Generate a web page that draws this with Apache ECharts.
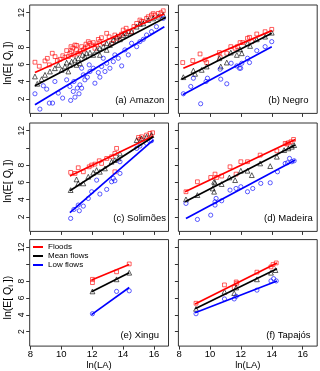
<!DOCTYPE html>
<html><head><meta charset="utf-8">
<script src="https://cdn.jsdelivr.net/npm/echarts@6/dist/echarts.min.js"></script>
<style>html,body{margin:0;padding:0;background:#fff}#c{width:320px;height:371px}</style>
</head><body><div id="c"></div>
<script>
// ---- tick labels / categories ----
const xTicks = [8, 10, 12, 14, 16];
const yTicks = [2, 4, 6, 8, 10, 12];
const yTickLabels = [2, 4, 6, 8, 12];
const panelTitles = ['(a) Amazon', '(b) Negro', '(c) Solimões', '(d) Madeira', '(e) Xingu', '(f) Tapajós'];
const seriesNames = ['Floods', 'Mean flows', 'Low flows'];
const xAxisTitle = 'ln(LA)';
const yAxisTitle = 'ln(E[ Q{s|i} ])';

// ---- (a) Amazon ----
const amazonFloods = [[8.30,6.25],[8.58,5.78],[8.95,6.40],[9.10,6.70],[9.23,5.94],[9.42,7.29],[9.60,6.90],[9.75,6.44],[9.92,6.59],[10.10,7.00],[10.24,6.83],[10.35,7.60],[10.46,6.90],[10.56,7.29],[10.63,8.06],[10.67,7.48],[10.75,7.90],[10.82,7.10],[10.89,8.25],[10.99,7.68],[11.00,8.20],[11.10,7.29],[11.21,7.48],[11.32,8.06],[11.43,7.68],[11.53,7.87],[11.60,8.35],[11.69,8.06],[11.75,8.64],[11.86,8.45],[11.97,8.25],[12.07,8.53],[12.18,7.87],[12.29,8.25],[12.40,8.90],[12.50,8.64],[12.60,9.10],[12.72,8.45],[12.94,9.61],[13.10,9.20],[13.26,8.45],[13.37,8.83],[13.47,9.41],[13.63,9.03],[13.75,9.22],[13.90,9.50],[14.01,9.99],[14.12,9.61],[14.20,10.20],[14.34,9.80],[14.55,9.80],[14.70,10.40],[14.88,10.76],[15.09,11.15],[15.20,11.00],[15.31,10.96],[15.52,11.34],[15.63,11.54],[15.84,11.73],[15.95,11.90],[16.06,11.73],[16.28,11.92],[16.45,12.00],[16.60,12.23]];
const amazonMean = [[8.30,4.59],[8.45,3.74],[8.73,4.28],[8.95,4.78],[9.27,5.17],[9.59,5.55],[9.81,5.94],[10.03,5.36],[10.24,5.75],[10.35,6.21],[10.46,5.17],[10.56,5.94],[10.67,6.32],[10.89,6.52],[10.99,5.94],[11.10,6.71],[11.21,6.13],[11.38,7.10],[11.53,6.90],[11.64,7.29],[11.86,7.37],[12.07,7.10],[12.29,7.68],[12.50,7.87],[12.50,7.10],[12.72,8.06],[12.94,8.45],[12.94,7.68],[13.15,8.25],[13.37,8.83],[13.58,9.22],[13.80,8.91],[14.01,9.41],[14.23,9.61],[14.55,9.80],[14.88,10.38],[15.09,10.69],[15.31,10.76],[15.63,11.15],[15.95,11.34],[16.28,11.54],[16.60,11.73]];
const amazonLow = [[8.30,2.58],[8.62,0.80],[8.84,3.51],[9.06,3.12],[9.23,1.50],[9.44,1.50],[9.59,4.01],[9.81,2.66],[10.09,2.08],[10.35,4.20],[10.56,3.43],[10.61,1.81],[10.78,2.85],[10.82,4.01],[10.89,2.19],[11.04,3.24],[11.15,2.58],[11.21,3.62],[11.32,3.24],[11.32,5.55],[11.43,4.78],[11.53,4.20],[11.69,4.51],[11.81,5.94],[11.86,5.17],[12.07,5.55],[12.18,3.81],[12.40,5.05],[12.50,4.51],[12.61,5.75],[12.72,6.71],[12.83,5.17],[12.94,6.13],[13.15,5.55],[13.37,6.32],[13.47,7.10],[13.69,6.71],[13.91,5.82],[14.12,7.68],[14.34,7.10],[14.55,8.45],[14.88,8.06],[15.09,8.64],[15.31,8.91],[15.52,9.41],[15.84,9.80],[16.16,10.38],[16.60,11.34]];
const amazonFloodsFit = [[8.30,5.05],[16.67,11.85]];
const amazonMeanFit = [[8.30,3.51],[16.76,11.46]];
const amazonLowFit = [[8.30,1.30],[16.67,10.38]];

// ---- (b) Negro ----
const negroFloods = [[8.24,6.21],[8.89,6.44],[9.36,7.21],[9.68,6.52],[9.79,6.21],[10.61,7.37],[10.66,6.83],[11.09,7.29],[11.35,8.06],[11.63,7.87],[11.78,8.06],[11.95,8.53],[12.12,8.53],[12.43,9.03],[12.56,9.14],[12.71,8.64],[13.03,9.53],[13.57,9.80],[14.00,10.07]];
const negroMean = [[8.28,4.51],[8.93,5.28],[9.04,4.90],[9.47,5.36],[9.79,5.75],[10.61,6.71],[10.70,5.75],[11.09,6.21],[11.35,7.37],[11.74,7.10],[11.95,7.75],[12.06,7.29],[12.43,8.45],[12.60,8.14],[13.03,8.91],[13.57,9.22],[14.00,9.68]];
const negroLow = [[8.28,2.58],[8.76,3.43],[8.93,4.39],[9.40,1.42],[9.75,4.01],[9.84,4.39],[10.66,5.44],[10.70,4.28],[11.09,3.74],[11.37,6.13],[11.74,5.82],[11.91,5.55],[11.99,5.55],[12.06,6.13],[12.43,6.71],[12.56,6.21],[13.03,7.60],[13.57,8.06],[14.00,8.64]];
const negroFloodsFit = [[8.28,5.55],[14.00,9.92]];
const negroMeanFit = [[8.17,4.28],[14.00,9.61]];
const negroLowFit = [[8.24,2.46],[14.00,8.06]];

// ---- (c) Solimões ----
const solimoesFloods = [[10.61,7.16],[10.89,7.04],[11.10,7.70],[11.43,7.23],[11.81,7.81],[11.97,8.01],[12.18,8.12],[12.46,8.51],[12.61,8.20],[12.94,8.78],[13.26,8.98],[13.47,9.36],[13.47,7.23],[13.58,9.95],[15.00,11.22],[15.09,11.00],[15.20,11.30],[15.52,11.50],[15.74,11.69],[15.91,11.77]];
const solimoesMean = [[10.61,5.10],[10.99,6.34],[11.10,5.88],[11.43,5.88],[11.75,6.65],[12.07,7.12],[12.29,7.43],[12.50,7.23],[12.83,7.62],[13.26,8.40],[13.47,8.59],[13.69,8.78],[13.80,9.36],[14.88,10.91],[15.20,11.11],[15.52,11.30],[15.84,11.50]];
const solimoesLow = [[10.61,1.81],[10.82,2.85],[11.10,3.36],[11.17,2.70],[11.43,3.24],[11.75,4.13],[11.97,4.91],[12.29,6.26],[12.50,4.64],[12.94,5.18],[13.26,6.07],[13.37,6.46],[13.47,6.19],[13.80,7.04],[13.80,8.40],[14.88,9.95],[15.09,10.22],[15.52,10.53],[15.84,10.84]];
const solimoesFloodsFit = [[10.56,6.73],[15.95,11.38]];
const solimoesMeanFit = [[10.56,5.02],[15.95,11.30]];
const solimoesLowFit = [[10.56,2.47],[15.95,10.91]];

// ---- (d) Madeira ----
const madeiraFloods = [[8.45,4.91],[9.19,6.07],[10.05,6.57],[10.33,6.96],[10.44,6.57],[10.76,6.73],[11.30,7.81],[11.69,6.96],[12.00,8.40],[12.43,8.40],[13.25,9.17],[14.33,9.67],[14.87,10.53],[14.98,10.45],[15.08,10.60],[15.24,10.72],[15.41,10.99]];
const madeiraMean = [[8.45,4.02],[9.19,4.52],[10.18,5.29],[10.27,6.07],[10.27,4.91],[10.33,5.95],[10.76,5.80],[11.26,6.57],[11.63,6.26],[12.00,7.35],[12.43,7.35],[12.71,6.84],[13.25,8.20],[13.90,7.89],[14.33,8.98],[14.80,9.75],[15.08,9.95],[15.30,10.14],[15.45,10.33]];
const madeiraLow = [[8.45,3.55],[9.19,1.69],[10.05,2.19],[10.33,3.74],[10.33,3.36],[10.40,4.13],[10.76,3.86],[11.30,5.10],[11.69,5.29],[12.00,5.49],[12.43,4.91],[12.77,5.29],[13.29,5.88],[13.90,5.95],[14.37,7.23],[14.87,8.20],[15.02,8.28],[15.15,8.78],[15.30,8.40],[15.45,8.51]];
const madeiraFloodsFit = [[8.39,4.91],[15.52,10.99]];
const madeiraMeanFit = [[8.39,3.74],[15.52,10.33]];
const madeiraLowFit = [[8.45,1.81],[15.52,8.59]];

// ---- (e) Xingu ----
const xinguFloods = [[12.02,8.20],[12.02,7.81],[13.58,9.09],[14.40,10.02]];
const xinguMean = [[12.02,6.77],[13.58,8.20],[14.40,8.98]];
const xinguLow = [[12.02,4.13],[13.58,6.77],[14.40,6.84]];
const xinguFloodsFit = [[11.96,8.12],[14.40,9.95]];
const xinguMeanFit = [[11.96,6.73],[14.40,8.98]];
const xinguLowFit = [[11.96,4.02],[14.40,7.23]];

// ---- (f) Tapajós ----
const tapajosFloods = [[9.10,5.37],[10.94,7.54],[11.57,7.23],[11.70,7.89],[11.74,7.74],[13.04,9.05],[13.95,9.67],[14.08,9.95],[14.29,10.14]];
const tapajosMean = [[9.10,4.71],[10.94,6.73],[11.57,6.57],[11.70,7.23],[13.04,8.20],[13.95,8.98],[14.24,9.29]];
const tapajosLow = [[9.10,4.13],[10.94,5.88],[11.57,5.88],[11.70,6.19],[13.04,6.92],[13.95,8.01],[14.12,8.28],[14.29,8.01]];
const tapajosFloodsFit = [[9.04,5.29],[14.34,10.14]];
const tapajosMeanFit = [[9.04,4.71],[14.34,9.44]];
const tapajosLowFit = [[9.04,4.25],[14.34,8.01]];

const panels = [
  {pts:[amazonFloods, amazonMean, amazonLow], fits:[amazonFloodsFit, amazonMeanFit, amazonLowFit]},
  {pts:[negroFloods, negroMean, negroLow], fits:[negroFloodsFit, negroMeanFit, negroLowFit]},
  {pts:[solimoesFloods, solimoesMean, solimoesLow], fits:[solimoesFloodsFit, solimoesMeanFit, solimoesLowFit]},
  {pts:[madeiraFloods, madeiraMean, madeiraLow], fits:[madeiraFloodsFit, madeiraMeanFit, madeiraLowFit]},
  {pts:[xinguFloods, xinguMean, xinguLow], fits:[xinguFloodsFit, xinguMeanFit, xinguLowFit]},
  {pts:[tapajosFloods, tapajosMean, tapajosLow], fits:[tapajosFloodsFit, tapajosMeanFit, tapajosLowFit]}
];

// ---- styling ----
const FONT = '"Liberation Sans", Arial, Helvetica, sans-serif';
const colors = ['#ff0000', '#000000', '#0000ff'];
const symbols = ['rect', 'triangle', 'circle'];
const symbolSizes = [3.8, 4.8, 4.2];
const colLeft = [29.7, 178.4];
const rowTop = [5, 123, 239.6];
const gridW = 138.8, gridH = 108.4;
const axisColor = '#333';

const grids = [], xAxes = [], yAxes = [], series = [], graphics = [];
panels.forEach((p, i) => {
  const r = Math.floor(i / 2), c = i % 2;
  grids.push({left: colLeft[c], top: rowTop[r], width: gridW, height: gridH, show: true,
    borderColor: axisColor, borderWidth: 1, backgroundColor: 'transparent'});
  xAxes.push({gridIndex: i, type: 'value', min: 7.96, max: 16.94,
    axisLine: {show: false}, splitLine: {show: false},
    axisTick: {show: true, length: 3.5, customValues: xTicks, lineStyle: {color: axisColor}},
    axisLabel: {show: r === 2, customValues: xTicks, margin: 3, fontSize: 9.5, color: '#000', fontFamily: FONT},
    name: r === 2 ? xAxisTitle : '', nameLocation: 'middle', nameGap: 10,
    nameTextStyle: {fontSize: 9.5, color: '#000', fontFamily: FONT}});
  yAxes.push({gridIndex: i, type: 'value', min: 0.3, max: 12.9,
    axisLine: {show: false}, splitLine: {show: false},
    axisTick: {show: true, length: 3.5, customValues: yTicks, lineStyle: {color: axisColor}},
    axisLabel: {show: c === 0, customValues: yTickLabels, rotate: 90, margin: 4, fontSize: 8.5, color: '#000', fontFamily: FONT}});
  p.pts.forEach((d, k) => {
    series.push({type: 'scatter', name: seriesNames[k] + ' obs', xAxisIndex: i, yAxisIndex: i, data: d,
      symbol: symbols[k], symbolSize: symbolSizes[k], silent: true,
      itemStyle: {color: 'rgba(0,0,0,0)', borderColor: colors[k], borderWidth: 0.8}});
  });
  p.fits.forEach((d, k) => {
    series.push({type: 'line', name: seriesNames[k], xAxisIndex: i, yAxisIndex: i, data: d,
      symbol: 'none', silent: true, color: colors[k], lineStyle: {color: colors[k], width: 1.7}});
  });
  graphics.push({type: 'text', x: colLeft[c] + 110, y: rowTop[r] + 95.5,
    style: {text: panelTitles[i], fontSize: 9.5, fontFamily: FONT, fill: '#000', align: 'center', verticalAlign: 'middle'}});
  if (c === 0) {
    graphics.push({type: 'text', x: 8.5, y: rowTop[r] + 58, rotation: Math.PI / 2,
      style: {text: yAxisTitle, fontSize: 10.5, fontFamily: FONT, fill: '#000', align: 'center', verticalAlign: 'middle',
        rich: {s: {fontSize: 7.5, fontFamily: FONT, fill: '#000', verticalAlign: 'bottom', padding: [5, 0, 0, 0]}}}});
  }
});

const chart = echarts.init(document.getElementById('c'), null, {renderer: 'canvas'});
chart.setOption({
  animation: false,
  grid: grids, xAxis: xAxes, yAxis: yAxes, series: series,
  graphic: graphics,
  legend: {data: seriesNames, orient: 'vertical', left: 33, top: 243, icon: 'rect',
    itemWidth: 10, itemHeight: 2, itemGap: 1, padding: 0, selectedMode: false,
    textStyle: {fontSize: 8, lineHeight: 8, color: '#000', fontFamily: FONT}}
});
</script></body></html>
